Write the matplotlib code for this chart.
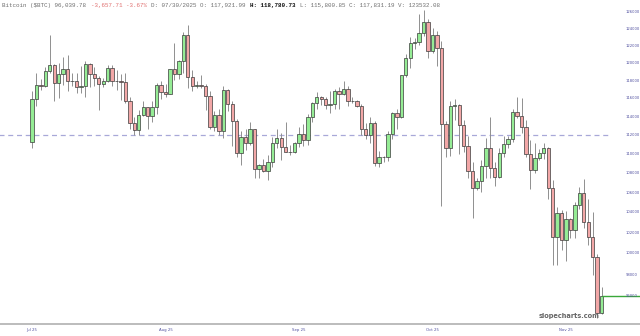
import numpy as np
import pandas as pd
import matplotlib
matplotlib.use('Agg')
import matplotlib.pyplot as plt
import matplotlib.transforms as mtransforms

# daily BTC candles, Jul 10 - Nov 15 2025 (values in $)
dates = pd.date_range('2025-07-10', '2025-11-15', freq='D')

opens = [111.3, 115.9, 117.5, 117.4, 119.1, 119.8, 117.7, 118.7, 119.3, 117.9,
         118.0, 117.3, 117.4, 119.9, 118.7, 118.3, 117.6, 117.9, 119.4, 118.0,
         117.92, 117.8, 115.7, 113.3, 112.5, 114.2, 115.0, 114.1, 115.0, 117.5,
         116.7, 116.5, 119.3, 118.7, 120.2, 123.3, 118.4, 117.4, 117.5, 117.4,
         116.3, 112.9, 114.2, 112.4, 116.9, 115.4, 113.5, 110.1, 111.8, 111.2,
         112.6, 108.4, 108.8, 108.2, 109.2, 111.2, 111.7, 110.7, 110.2, 110.2,
         111.1, 112.1, 111.5, 113.9, 115.5, 116.1, 115.9, 115.3, 115.4, 116.8,
         116.5, 117.1, 115.7, 115.7, 115.2, 112.7, 112.0, 113.3, 109.0, 109.7,
         109.7, 112.1, 114.4, 114.0, 118.6, 120.6, 122.3, 122.4, 123.5, 124.8,
         121.4, 123.3, 121.7, 113.2, 110.6, 115.2, 115.3, 113.1, 110.8, 108.2,
         106.5, 107.2, 108.7, 110.6, 108.5, 107.6, 110.1, 111.0, 111.6, 114.5,
         114.1, 112.9, 110.0, 108.3, 109.6, 110.1, 110.6, 106.5, 101.6, 103.9,
         101.3, 103.4, 102.3, 104.7, 106.0, 103.1, 101.6, 99.7, 94.5]
highs = [116.8, 118.9, 118.2, 119.5, 123.2, 119.9, 120.0, 120.7, 120.9, 118.9,
         118.9, 119.7, 120.2, 120.0, 119.5, 118.5, 118.3, 119.8, 119.8, 119.2,
         118.78, 118.9, 116.1, 114.0, 114.7, 115.7, 115.1, 115.7, 117.7, 117.9,
         117.6, 119.3, 122.3, 120.3, 123.6, 124.4, 119.2, 117.9, 118.6, 117.6,
         116.8, 114.6, 114.8, 117.4, 117.0, 115.7, 113.7, 112.4, 112.6, 113.4,
         112.6, 108.9, 109.5, 109.9, 111.8, 112.6, 112.2, 113.4, 110.9, 111.3,
         112.9, 113.2, 114.3, 115.6, 116.7, 116.3, 116.1, 116.8, 117.0, 117.3,
         117.9, 117.4, 116.2, 115.8, 115.4, 113.3, 114.0, 113.5, 110.3, 109.8,
         112.4, 114.5, 114.8, 118.6, 121.0, 123.0, 122.9, 125.7, 126.2, 125.1,
         124.1, 123.7, 122.5, 113.5, 115.7, 115.9, 115.4, 113.6, 111.9, 109.2,
         107.5, 109.4, 111.7, 114.0, 109.1, 110.6, 111.9, 111.9, 114.8, 116.1,
         116.0, 113.6, 111.5, 111.1, 110.5, 111.2, 110.7, 107.3, 104.5, 104.2,
         104.1, 103.5, 105.0, 106.6, 107.4, 105.3, 104.0, 99.9, 96.8]
lows = [110.6, 115.2, 116.9, 117.3, 118.9, 115.7, 116.0, 117.5, 116.8, 117.4,
        116.6, 116.6, 116.1, 117.3, 117.4, 114.7, 117.3, 117.8, 117.4, 116.9,
        115.80, 115.5, 112.7, 112.0, 112.0, 114.1, 112.7, 113.4, 114.3, 115.9,
        116.2, 116.5, 118.1, 118.2, 118.9, 117.2, 116.8, 117.2, 117.2, 114.7,
        112.7, 112.4, 112.0, 111.7, 114.6, 110.8, 109.7, 108.8, 110.4, 110.9,
        107.5, 107.5, 108.1, 107.3, 108.6, 110.6, 109.4, 110.2, 109.9, 110.1,
        110.7, 110.8, 110.9, 113.4, 114.8, 115.3, 114.8, 114.4, 114.8, 114.8,
        116.4, 115.2, 115.5, 115.1, 112.0, 111.6, 111.1, 108.7, 108.6, 109.1,
        109.3, 111.6, 112.7, 113.8, 118.4, 119.4, 121.6, 122.1, 123.1, 120.6,
        121.1, 119.7, 104.6, 109.7, 109.8, 113.6, 110.0, 110.2, 107.5, 103.5,
        106.3, 106.1, 107.5, 107.5, 106.7, 107.5, 109.7, 110.6, 111.3, 113.8,
        112.2, 109.7, 106.4, 108.0, 109.4, 109.5, 105.3, 98.9, 98.9, 100.3,
        99.3, 101.5, 101.5, 104.3, 102.5, 100.8, 98.0, 94.0, 94.4]
closes = [115.9, 117.5, 117.4, 119.1, 119.8, 117.7, 118.7, 119.3, 117.9, 118.0,
          117.3, 117.4, 119.9, 118.7, 118.3, 117.6, 117.9, 119.4, 118.0, 117.9,
          117.83, 115.7, 113.3, 112.5, 114.2, 115.0, 114.1, 115.0, 117.5, 116.7,
          116.5, 119.3, 118.7, 120.2, 123.3, 118.4, 117.4, 117.5, 117.4, 116.3,
          112.9, 114.2, 112.4, 116.9, 115.4, 113.5, 110.1, 111.8, 111.2, 112.6,
          108.4, 108.8, 108.2, 109.2, 111.2, 111.7, 110.7, 110.2, 110.2, 111.1,
          112.1, 111.5, 113.9, 115.5, 116.1, 115.9, 115.3, 115.4, 116.8, 116.5,
          117.1, 115.7, 115.7, 115.2, 112.7, 112.0, 113.3, 109.0, 109.7, 109.7,
          112.1, 114.4, 114.0, 118.6, 120.6, 122.3, 122.4, 123.5, 124.8, 121.4,
          123.3, 121.7, 113.2, 110.6, 115.2, 115.3, 113.1, 110.8, 108.2, 106.5,
          107.2, 108.7, 110.6, 108.5, 107.6, 110.1, 111.0, 111.6, 114.5, 114.1,
          112.9, 110.0, 108.3, 109.6, 110.1, 110.6, 106.5, 101.6, 103.9, 101.3,
          103.4, 102.3, 104.7, 106.0, 103.1, 101.6, 99.7, 94.5, 96.03978]

ytick_vals = list(range(96000, 128000, 2000))
xtick_idx = [0, 30, 60, 90, 120]
xtick_lbls = ['Jul 25', 'Aug 25', 'Sep 25', 'Oct 25', 'Nov 25']
hline_val = 112000

df = pd.DataFrame({'open': opens, 'high': highs, 'low': lows, 'close': closes}, index=dates) * 1000

fig = plt.figure(figsize=(6.4, 3.36), dpi=100)
ax = fig.add_axes([0, 12 / 336, 1, 324 / 336])
ax.set_yscale('log')
ax.set_ylim(93470, 127456)
ax.set_xlim(-32 / 4.45, 608 / 4.45)

x = np.arange(len(df))
up = df['close'] >= df['open']
ax.vlines(x, df['low'], df['high'], color='#8f8f8f', linewidth=0.7, zorder=1)
body_lo = df[['open', 'close']].min(axis=1)
body_h = (df['close'] - df['open']).abs()
ax.bar(x[up], body_h[up], bottom=body_lo[up], width=0.76, color='#95ec95',
       edgecolor='#3a3a3a', linewidth=0.5, zorder=2)
ax.bar(x[~up], body_h[~up], bottom=body_lo[~up], width=0.76, color='#f2a7a7',
       edgecolor='#3a3a3a', linewidth=0.5, zorder=2)

# horizontal dashed level + last price line
ax.hlines(hline_val, -8, 129.5, color='#a8a8d8', linestyle=(0, (4, 3)), linewidth=0.9, zorder=0)
ax.hlines(df['close'].iloc[-1], len(df) - 1, 140, color='#3aa83a', linewidth=1.0, zorder=3)

for s in ['top', 'left', 'right']:
    ax.spines[s].set_visible(False)
ax.spines['bottom'].set_color('#b0b0b0')
ax.spines['bottom'].set_linewidth(1.2)

ax.set_yticks([])
ax.yaxis.set_minor_locator(matplotlib.ticker.NullLocator())
trans = mtransforms.blended_transform_factory(ax.transAxes, ax.transData)
for v in ytick_vals:
    ax.text(626 / 640, v, str(v), transform=trans, fontsize=2.7, color='#5050a0',
            ha='left', va='center')

ax.set_xticks(xtick_idx)
ax.set_xticklabels(xtick_lbls, fontsize=2.8, color='#5050a0')
ax.tick_params(axis='x', length=0, pad=3)

# header line, monospace pieces
cw = 3.55
hdr = [("Bitcoin ($BTC) 96,039.78 ", '#707070', 'normal'),
       ("-3,657.71 -3.67% ", '#e07070', 'normal'),
       ("D: 07/30/2025 O: 117,921.99 ", '#707070', 'normal'),
       ("H: 118,780.73 ", '#111111', 'bold'),
       ("L: 115,800.85 C: 117,831.19 V: 123532.08", '#707070', 'normal')]
pos = 0
for txt, col, wt in hdr:
    fig.text((2 + pos * cw) / 640, 1 - 6 / 336, txt, fontsize=4.25, color=col,
             family='Liberation Mono', weight=wt, ha='left', va='center', zorder=5)
    pos += len(txt)

fig.text(539 / 640, 20 / 336, 'slopecharts.com', fontsize=4.8, color='#666666',
         weight='bold', ha='left', va='center')

fig.savefig('out.png', dpi=100, facecolor='white')
